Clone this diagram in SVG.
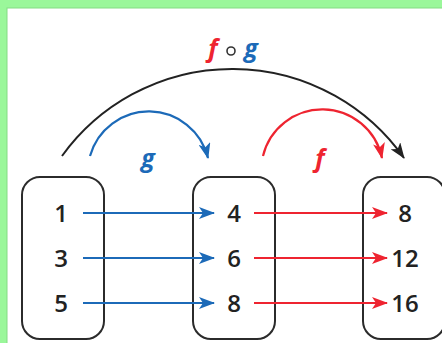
<svg xmlns="http://www.w3.org/2000/svg" width="442" height="343" viewBox="0 0 442 343">
<defs>
<style>
.box{fill:#fff;stroke:#2b2b2b;stroke-width:2}
.num{font-family:"Open Sans","Liberation Sans",sans-serif;font-weight:600;font-size:24px;fill:#222;text-anchor:middle}
.lbl{font-family:"Open Sans","Liberation Sans",sans-serif;font-weight:700;font-style:italic;font-size:25px;text-anchor:middle}
.b{stroke:#1c6ab8;fill:none;stroke-width:2.2}
.r{stroke:#ee2430;fill:none;stroke-width:2.2}
.k{stroke:#222;fill:none;stroke-width:2}
</style>
<marker id="mb" viewBox="0 0 16 12" refX="15" refY="6" markerWidth="16" markerHeight="12" markerUnits="userSpaceOnUse" orient="auto"><path d="M0,0 L16,6 L0,12 L4,6 z" fill="#1c6ab8"/></marker>
<marker id="mr" viewBox="0 0 16 12" refX="15" refY="6" markerWidth="16" markerHeight="12" markerUnits="userSpaceOnUse" orient="auto"><path d="M0,0 L16,6 L0,12 L4,6 z" fill="#ee2430"/></marker>
<marker id="mk" viewBox="0 0 16 12" refX="15" refY="6" markerWidth="16" markerHeight="12" markerUnits="userSpaceOnUse" orient="auto"><path d="M0,0 L16,6 L0,12 L4,6 z" fill="#222"/></marker>
</defs>
<rect x="0" y="0" width="442" height="343" fill="#9af79a"/>
<rect x="7" y="8" width="440" height="340" fill="#fff" stroke="#84dc84" stroke-width="1"/>
<g id="domain">
<rect class="box" x="22" y="177" width="82" height="162" rx="18"/>
<text class="num" x="61" y="222">1</text>
<text class="num" x="61" y="267">3</text>
<text class="num" x="61" y="312">5</text>
</g>
<g id="middle">
<rect class="box" x="193" y="177" width="82" height="162" rx="18"/>
<text class="num" x="234" y="222">4</text>
<text class="num" x="234" y="267">6</text>
<text class="num" x="234" y="312">8</text>
</g>
<g id="range">
<rect class="box" x="363" y="177" width="82" height="162" rx="18"/>
<text class="num" x="405" y="222">8</text>
<text class="num" x="405" y="267">12</text>
<text class="num" x="405" y="312">16</text>
</g>
<g id="connectors">
<line class="b" x1="83" y1="213" x2="214" y2="213" marker-end="url(#mb)"/>
<line class="b" x1="83" y1="258" x2="214" y2="258" marker-end="url(#mb)"/>
<line class="b" x1="83" y1="303" x2="214" y2="303" marker-end="url(#mb)"/>
<line class="r" x1="254" y1="213" x2="387" y2="213" marker-end="url(#mr)"/>
<line class="r" x1="254" y1="258" x2="387" y2="258" marker-end="url(#mr)"/>
<line class="r" x1="254" y1="303" x2="387" y2="303" marker-end="url(#mr)"/>
<path class="k" d="M62,156 A210,210 0 0 1 404,158" marker-end="url(#mk)"/>
<path class="b" d="M90,156 A61,61 0 0 1 208,158" marker-end="url(#mb)"/>
<path class="r" d="M263,156 A61,61 0 0 1 382,158" marker-end="url(#mr)"/>
</g>
<g id="labels">
<text class="lbl" x="148" y="167" fill="#1c6ab8">g</text>
<text class="lbl" x="320" y="167" fill="#ee2430">f</text>
<text class="lbl" x="213" y="57" fill="#ee2430">f</text>
<circle cx="231" cy="51" r="4" fill="none" stroke="#333" stroke-width="1.6"/>
<text class="lbl" x="251" y="57" fill="#1c6ab8">g</text>
</g>
</svg>
